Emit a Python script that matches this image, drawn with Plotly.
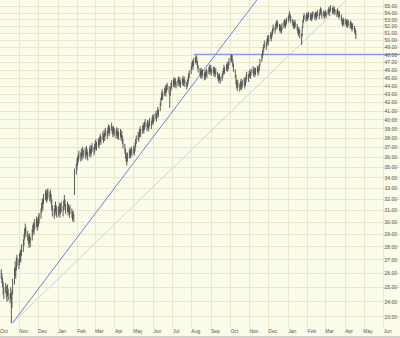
import math
import pandas as pd
import plotly.graph_objects as go

# Daily low / high prices (business days from 2005-10-03), one row per month
lows = [
    # Oct 2005
    25.6, 25.3, 25.0, 24.5, 24.2, 24.6, 24.3, 24.0, 24.4, 24.1, 23.9, 24.2, 22.6, 23.6, 24.5, 25.2, 25.8, 25.6, 26.2, 26.5, 26.3,
    # Nov 2005
    26.6, 26.9, 26.8, 27.3, 27.6, 28.1, 28.6, 29.0, 28.8, 28.5, 28.2, 27.9, 28.3, 28.0, 28.5, 28.9, 29.2, 29.0, 29.4, 29.6, 29.3, 29.5,
    # Dec 2005
    29.7, 29.9, 30.3, 30.8, 31.2, 31.0, 31.6, 31.9, 32.0, 31.7, 31.9, 32.1, 31.8, 32.0, 31.6, 31.0, 30.5, 30.3, 30.6, 30.9, 30.6, 30.4,
    # Jan 2006
    30.5, 30.8, 30.4, 30.7, 30.9, 30.5, 31.0, 31.4, 31.1, 30.7, 30.9, 30.6, 30.8, 30.4, 30.7, 30.4, 30.1, 30.3, 30.0, 32.4, 34.3, 34.8,
    # Feb 2006
    35.2, 35.5, 35.8, 35.6, 36.0, 35.7, 36.2, 35.9, 36.1, 35.8, 36.3, 36.0, 35.7, 36.1, 36.4, 36.0, 36.3, 36.6, 36.2, 36.5,
    # Mar 2006
    36.8, 37.0, 36.7, 37.1, 36.9, 37.3, 37.6, 37.3, 37.8, 37.5, 38.0, 37.7, 38.2, 37.9, 38.3, 38.6, 38.2, 38.5, 38.8, 38.4, 38.1, 38.5, 38.2,
    # Apr 2006
    38.0, 38.3, 37.9, 38.2, 37.8, 38.1, 37.7, 37.9, 37.4, 36.9, 36.4, 35.9, 35.5, 35.2, 35.6, 35.9, 36.2, 35.9, 36.3, 36.1,
    # May 2006
    36.4, 36.2, 36.6, 37.0, 37.4, 37.8, 37.6, 38.1, 38.4, 38.1, 38.5, 38.8, 38.5, 38.9, 39.2, 38.8, 39.1, 38.7, 39.0, 39.3, 39.0, 39.4, 39.7,
    # Jun 2006
    39.5, 39.8, 40.1, 39.8, 40.2, 40.6, 40.3, 41.0, 41.6, 42.2, 42.6, 42.3, 42.8, 43.1, 42.7, 43.2, 43.5, 43.1, 41.4, 42.8, 43.4, 43.7,
    # Jul 2006
    43.9, 44.2, 43.8, 44.1, 43.7, 44.0, 44.3, 43.9, 44.2, 43.8, 44.1, 44.4, 44.0, 44.3, 43.9, 43.6, 43.9, 44.2, 44.6, 45.0, 45.5,
    # Aug 2006
    46.0, 46.4, 46.1, 46.6, 46.9, 47.1, 46.7, 46.2, 45.7, 45.3, 45.0, 45.4, 44.9, 45.2, 44.7, 45.1, 44.8, 45.3, 45.0, 45.5, 45.8, 45.4, 45.7,
    # Sep 2006
    45.3, 45.6, 45.2, 45.5, 45.1, 45.4, 44.9, 44.6, 44.4, 44.7, 44.3, 44.6, 45.0, 45.4, 45.8, 45.5, 45.9, 46.2, 45.8, 46.1, 46.6,
    # Oct 2006
    47.0, 47.2, 46.9, 46.4, 45.8, 45.0, 44.2, 43.7, 43.4, 43.8, 43.3, 43.6, 43.9, 43.5, 43.8, 44.1, 43.7, 44.0, 44.4, 44.8, 44.5, 45.0,
    # Nov 2006
    45.2, 44.9, 45.3, 45.6, 45.2, 45.5, 45.1, 45.4, 45.7, 45.3, 45.6, 45.9, 46.5, 47.1, 47.6, 48.0, 48.5, 49.0, 48.7, 49.2, 49.6, 49.3,
    # Dec 2006
    49.8, 50.2, 49.9, 50.4, 50.8, 51.3, 51.0, 51.5, 51.9, 51.6, 51.9, 51.4, 51.1, 51.3, 51.0, 51.5, 51.8, 52.1, 51.7, 52.0, 52.3,
    # Jan 2007
    52.6, 52.9, 53.3, 52.8, 52.5, 52.1, 51.7, 52.0, 51.6, 51.9, 51.4, 51.0, 50.6, 50.9, 50.3, 49.4, 50.6, 51.8, 52.6, 53.0, 52.7, 53.1, 52.8,
    # Feb 2007
    53.0, 53.3, 52.9, 53.2, 52.8, 53.1, 53.4, 53.0, 53.3, 52.9, 53.2, 53.5, 53.1, 53.6, 54.0, 53.7, 53.2, 53.5, 53.1, 53.4,
    # Mar 2007
    53.6, 53.3, 53.7, 54.0, 53.6, 54.1, 54.3, 53.9, 54.2, 53.8, 54.1, 53.7, 53.4, 53.8, 53.5, 53.1, 53.4, 52.8, 52.3, 52.0, 52.4, 52.1,
    # Apr 2007
    52.3, 51.9, 52.2, 51.8, 52.1, 51.7, 52.0, 51.6, 51.3, 51.6, 51.1, 50.8, 50.2,
]
highs = [
    # Oct 2005
    26.3, 26.0, 25.7, 25.4, 25.0, 25.3, 25.1, 24.7, 25.2, 24.9, 24.6, 25.0, 24.6, 24.8, 25.6, 26.4, 26.9, 26.5, 27.2, 27.4, 27.1,
    # Nov 2005
    27.5, 27.7, 27.8, 28.2, 28.6, 29.0, 29.5, 29.9, 29.6, 29.3, 29.0, 28.7, 29.1, 28.8, 29.4, 29.8, 30.0, 29.9, 30.3, 30.5, 30.2, 30.4,
    # Dec 2005
    30.6, 30.8, 31.2, 31.7, 32.1, 32.0, 32.5, 32.8, 32.9, 32.6, 32.9, 33.0, 32.7, 32.9, 32.5, 32.0, 31.5, 31.2, 31.5, 31.8, 31.5, 31.3,
    # Jan 2006
    31.4, 31.7, 31.3, 31.6, 31.8, 31.4, 31.9, 32.4, 32.0, 31.6, 31.8, 31.5, 31.6, 31.3, 31.5, 31.2, 30.9, 31.0, 30.7, 34.9, 35.4, 35.9,
    # Feb 2006
    36.1, 36.4, 36.7, 36.5, 36.9, 36.6, 37.1, 36.8, 37.0, 36.6, 37.2, 36.9, 36.6, 37.0, 37.3, 36.9, 37.2, 37.5, 37.1, 37.4,
    # Mar 2006
    37.7, 37.9, 37.6, 38.0, 37.8, 38.2, 38.5, 38.2, 38.7, 38.4, 38.9, 38.6, 39.1, 38.8, 39.2, 39.5, 39.1, 39.4, 39.7, 39.3, 39.0, 39.3, 39.1,
    # Apr 2006
    38.9, 39.2, 38.8, 39.1, 38.7, 39.0, 38.6, 38.8, 38.3, 37.9, 37.4, 36.9, 36.5, 36.2, 36.5, 36.8, 37.0, 36.8, 37.1, 36.9,
    # May 2006
    37.2, 37.0, 37.5, 37.9, 38.3, 38.7, 38.5, 39.0, 39.3, 39.0, 39.4, 39.7, 39.4, 39.8, 40.1, 39.7, 40.0, 39.6, 39.9, 40.2, 39.9, 40.3, 40.6,
    # Jun 2006
    40.4, 40.7, 41.0, 40.7, 41.1, 41.5, 41.2, 42.0, 42.6, 43.2, 43.6, 43.3, 43.8, 44.1, 43.7, 44.2, 44.4, 44.0, 43.2, 43.9, 44.4, 44.7,
    # Jul 2006
    44.9, 45.1, 44.7, 45.0, 44.6, 44.9, 45.2, 44.8, 45.1, 44.7, 45.0, 45.3, 44.9, 45.2, 44.8, 44.5, 44.8, 45.1, 45.6, 46.0, 46.5,
    # Aug 2006
    47.0, 47.3, 47.1, 47.6, 47.8, 48.0, 47.7, 47.2, 46.7, 46.3, 46.0, 46.3, 45.9, 46.1, 45.7, 46.0, 45.8, 46.2, 46.0, 46.4, 46.7, 46.3, 46.7,
    # Sep 2006
    46.2, 46.5, 46.1, 46.4, 46.0, 46.3, 45.8, 45.5, 45.3, 45.6, 45.2, 45.5, 45.9, 46.3, 46.7, 46.4, 46.8, 47.1, 46.7, 47.1, 47.6,
    # Oct 2006
    48.0, 48.1, 48.0, 47.4, 46.9, 46.1, 45.4, 44.8, 44.5, 44.8, 44.3, 44.6, 44.9, 44.5, 44.8, 45.1, 44.7, 45.0, 45.4, 45.8, 45.5, 45.9,
    # Nov 2006
    46.1, 45.8, 46.2, 46.5, 46.1, 46.4, 46.0, 46.3, 46.6, 46.2, 46.5, 46.8, 47.5, 48.1, 48.6, 49.1, 49.5, 50.0, 49.7, 50.2, 50.7, 50.3,
    # Dec 2006
    50.8, 51.2, 50.9, 51.4, 51.8, 52.3, 52.0, 52.5, 52.9, 52.6, 52.9, 52.4, 52.1, 52.3, 52.0, 52.5, 52.8, 53.1, 52.7, 53.0, 53.3,
    # Jan 2007
    53.5, 53.9, 54.3, 53.8, 53.5, 53.1, 52.7, 53.0, 52.6, 52.9, 52.4, 52.0, 51.7, 51.9, 51.5, 51.0, 52.0, 53.0, 53.6, 54.0, 53.7, 54.1, 53.8,
    # Feb 2007
    54.0, 54.2, 53.9, 54.1, 53.8, 54.1, 54.3, 54.0, 54.2, 53.9, 54.2, 54.5, 54.1, 54.6, 54.9, 54.7, 54.2, 54.4, 54.1, 54.3,
    # Mar 2007
    54.5, 54.2, 54.6, 54.9, 54.6, 55.0, 55.2, 54.8, 55.1, 54.7, 55.0, 54.6, 54.4, 54.7, 54.4, 54.1, 54.3, 53.8, 53.3, 53.0, 53.3, 53.1,
    # Apr 2007
    53.2, 52.9, 53.1, 52.8, 53.0, 52.7, 52.9, 52.6, 52.3, 52.5, 52.1, 51.8, 51.4,
]

# Trend lines (date, price endpoints)
steep_dates = ["2005-10-21", "2006-11-12"]
steep_prices = [22.62, 56.03]
shallow_dates = ["2005-10-21", "2007-04-03"]
shallow_prices = [22.62, 56.03]
resist_dates = ["2006-08-04", "2007-06-30"]
resist_prices = [48.08, 48.08]

price_ticks = list(range(23, 56))
price_labels = [f"{v:.2f}" for v in price_ticks]

x_start, x_end = "2005-10-01", "2007-06-27"
y_lo, y_hi = 22.36, 56.03

n = min(len(lows), len(highs))
dates = pd.bdate_range("2005-10-03", periods=n)
bx, by = [], []
for d, lo, hi in zip(dates, lows[:n], highs[:n]):
    bx += [d, d, None]
    by += [lo, hi, None]

fig = go.Figure()
fig.add_trace(go.Scatter(x=shallow_dates, y=shallow_prices, mode="lines",
                         line=dict(color="#cdcfdf", width=1), hoverinfo="skip"))
fig.add_trace(go.Scatter(x=steep_dates, y=steep_prices, mode="lines",
                         line=dict(color="#7380d6", width=1), hoverinfo="skip"))
fig.add_trace(go.Scatter(x=resist_dates, y=resist_prices, mode="lines",
                         line=dict(color="#8a98e0", width=1.3), hoverinfo="skip"))
fig.add_trace(go.Scatter(x=bx, y=by, mode="lines",
                         line=dict(color="#4a4a4a", width=0.9), hoverinfo="skip"))

fig.update_layout(
    width=400, height=338,
    margin=dict(l=0, r=0, t=0, b=11),
    paper_bgcolor="#fcfcea",
    plot_bgcolor="#fcfcea",
    showlegend=False,
    font=dict(family="Liberation Sans", size=5, color="#555555"),
)
fig.update_xaxes(
    type="date", range=[x_start, x_end],
    tick0="2005-10-01", dtick="M1", tickformat="%b",
    showgrid=True, gridcolor="#e9e7cc", gridwidth=1,
    ticks="", ticklabelshift=4, tickfont=dict(size=5, color="#555555"),
    showline=False, zeroline=False,
)
fig.update_yaxes(
    type="log", range=[math.log10(y_lo), math.log10(y_hi)],
    side="right", ticklabelposition="inside",
    tickmode="array", tickvals=price_ticks, ticktext=price_labels,
    showgrid=True, gridcolor="#e9e7cc", gridwidth=1,
    ticks="", tickfont=dict(size=5, color="#555555"),
    showline=False, zeroline=False,
)
fig.add_shape(type="rect", xref="paper", yref="paper", x0=0, x1=1, y0=-11/327, y1=-9/327,
              fillcolor="#d4d0c8", line=dict(width=0), layer="above")

fig.write_html("out.html")
